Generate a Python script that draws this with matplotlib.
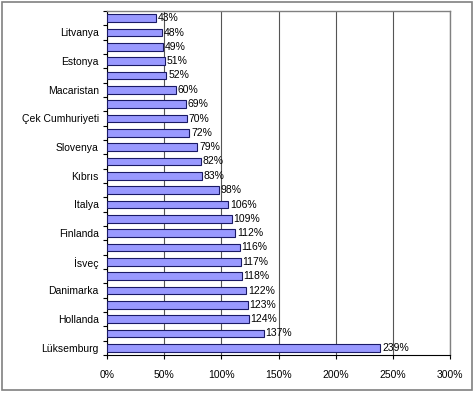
import matplotlib.pyplot as plt
import matplotlib.patches as mpatches
from matplotlib.ticker import FixedLocator

plt.rcParams['font.family'] = ['Liberation Sans', 'DejaVu Sans']

# top to bottom, only every second row carries a name in the original
countries = ['', 'Litvanya', '', 'Estonya', '', 'Macaristan', '', 'Çek Cumhuriyeti',
             '', 'Slovenya', '', 'Kıbrıs', '', 'Italya', '', 'Finlanda',
             '', 'İsveç', '', 'Danimarka', '', 'Hollanda', '', 'Lüksemburg']
values = [43, 48, 49, 51, 52, 60, 69, 70, 72, 79, 82, 83,
          98, 106, 109, 112, 116, 117, 118, 122, 123, 124, 137, 239]
xticks = [0, 50, 100, 150, 200, 250, 300]

fig = plt.figure(figsize=(4.75, 3.95), dpi=100)
ax = fig.add_axes([107/475, 1 - 355/395, (450 - 107)/475, (355 - 11)/395])

# outer chart frame
fig.patches.append(mpatches.Rectangle((2/475, 1 - 390/395), 470/475, 388/395,
                                      transform=fig.transFigure, fill=False,
                                      edgecolor='#808080', linewidth=1.2))

pos = list(range(len(values)))
ax.barh(pos, values, height=0.55, color='#9999FF', edgecolor='#1a1a66', linewidth=0.8, zorder=3)
for p, v in zip(pos, values):
    ax.text(v + 1.5, p, f'{v}%', va='center', ha='left', fontsize=7.5, zorder=4)

ax.set_xlim(0, 300)
ax.set_ylim(len(values) - 0.5, -0.5)
ax.set_xticks(xticks)
ax.set_xticklabels([f'{t}%' for t in xticks], fontsize=7.5)
ax.set_yticks(pos)
ax.set_yticklabels(countries, fontsize=7.5)
ax.yaxis.set_minor_locator(FixedLocator([p + 0.5 for p in range(-1, len(values))]))
ax.tick_params(axis='y', which='major', length=0, pad=6)
ax.tick_params(axis='y', which='minor', length=3, width=0.8, direction='out')
ax.tick_params(axis='x', length=3, width=0.8, direction='out', pad=8)

ax.xaxis.grid(True, color='#555555', linewidth=0.8, zorder=0)
for side in ['top', 'right']:
    ax.spines[side].set_color('#808080')
    ax.spines[side].set_linewidth(1.0)
for side in ['left', 'bottom']:
    ax.spines[side].set_color('black')
    ax.spines[side].set_linewidth(0.8)

fig.savefig('out.png', dpi=100)
